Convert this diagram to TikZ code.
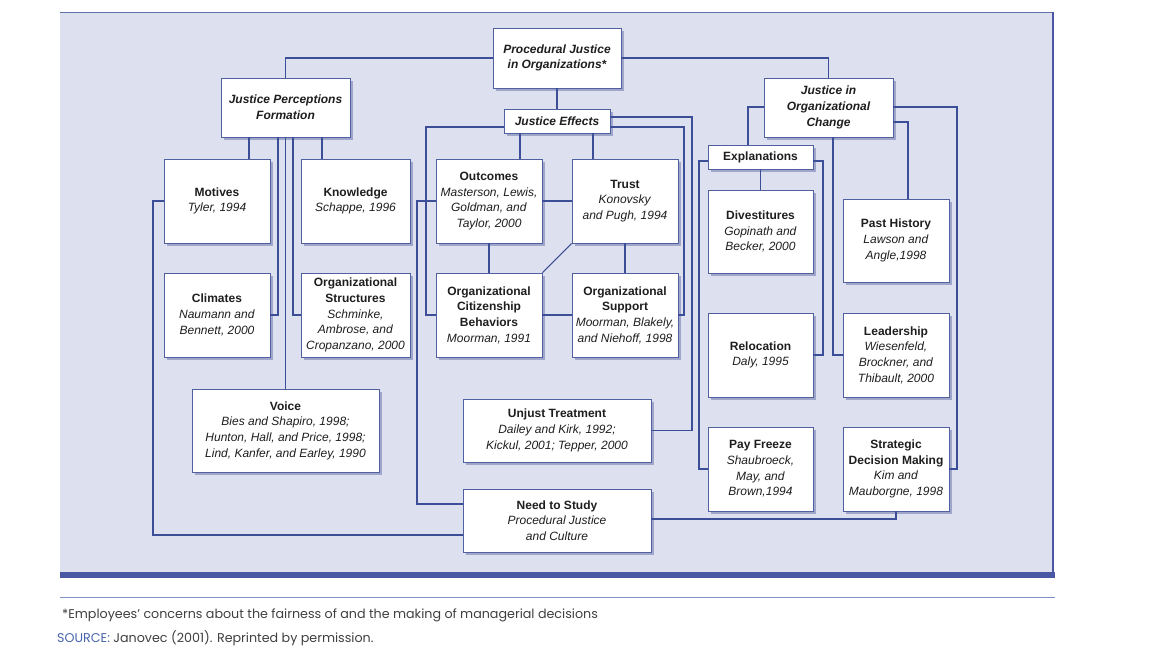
\documentclass[tikz,border=0pt]{standalone}
\usepackage{fontspec}
\setmainfont{Liberation Sans}
\newfontfamily\footfont{Poppins}
\usetikzlibrary{shadows}
\definecolor{panel}{RGB}{221,224,238}
\definecolor{lineblue}{RGB}{60,78,152}
\definecolor{boxblue}{RGB}{80,96,160}
\definecolor{shadowc}{RGB}{160,166,202}
\definecolor{barblue}{RGB}{74,88,164}
\definecolor{sourceblue}{RGB}{70,100,175}
\definecolor{txt}{RGB}{30,30,30}
\begin{document}
\begin{tikzpicture}[x=1pt,y=-1pt,
  box/.style={draw=boxblue, line width=0.9pt, fill=white, inner sep=0pt, align=center,
    font=\fontsize{12}{15.7}\selectfont, text=txt,
    general shadow={fill=shadowc, shadow xshift=2.5pt, shadow yshift=-2.5pt}},
  titlebox/.style={box, font=\fontsize{12}{15.7}\selectfont\bfseries\itshape},
  sz/.style 2 args={minimum width=#1pt, minimum height=#2pt},
  conn/.style={draw=lineblue, line width=1.05pt},
  foot/.style={anchor=base west, inner sep=0pt, font=\footfont\fontsize{12.7}{14}\selectfont, text=txt!85}]
\useasboundingbox (0,0) rectangle (1152,648);
\fill[white] (0,0) rectangle (1152,648);
% panel
\fill[panel] (60,12) rectangle (1053,572);
\draw[lineblue!80, line width=0.8pt] (60,12.5) -- (1053,12.5);
\draw[barblue, line width=2pt] (1053,12) -- (1053,573);
\fill[barblue] (60,572) rectangle (1055,578);
\draw[sourceblue!70, line width=0.8pt] (60,597) -- (1055,597);

% nodes
\node[titlebox, sz={128}{60}] (PJ) at (557,58) {Procedural Justice\\in Organizations*};
\node[titlebox, sz={129}{59}] (JPF) at (285.5,107.5) {Justice Perceptions\\Formation};
\node[titlebox, sz={106}{24}] (JE) at (557,121) {Justice Effects};
\node[titlebox, sz={129}{59}] (JOC) at (828.5,107.5) {Justice in\\Organizational\\Change};
\node[box, sz={105}{24}] (Expl) at (760.5,157) {\textbf{Explanations}};

\node[box, sz={106}{84}] (Motives) at (217,201) {\textbf{Motives}\\\textit{Tyler, 1994}};
\node[box, sz={109}{84}] (Knowledge) at (355.5,201) {\textbf{Knowledge}\\\textit{Schappe, 1996}};
\node[box, sz={106}{84}] (Outcomes) at (489,201) {\textbf{Outcomes}\\\textit{Masterson, Lewis,}\\\textit{Goldman, and}\\\textit{Taylor, 2000}};
\node[box, sz={106}{84}] (Trust) at (625,201) {\textbf{Trust}\\\textit{Konovsky}\\\textit{and Pugh, 1994}};
\node[box, sz={106}{84}] (Climates) at (217,315) {\textbf{Climates}\\\textit{Naumann and}\\\textit{Bennett, 2000}};
\node[box, sz={109}{84}] (OrgStruct) at (355.5,315) {\textbf{Organizational}\\\textbf{Structures}\\\textit{Schminke,}\\\textit{Ambrose, and}\\\textit{Cropanzano, 2000}};
\node[box, sz={106}{84}] (OCB) at (489,315) {\textbf{Organizational}\\\textbf{Citizenship}\\\textbf{Behaviors}\\\textit{Moorman, 1991}};
\node[box, sz={106}{84}] (OrgSupport) at (625,315) {\textbf{Organizational}\\\textbf{Support}\\\textit{Moorman, Blakely,}\\\textit{and Niehoff, 1998}};
\node[box, sz={187}{83}] (Voice) at (285.5,430.5) {\textbf{Voice}\\\textit{Bies and Shapiro, 1998;}\\\textit{Hunton, Hall, and Price, 1998;}\\\textit{Lind, Kanfer, and Earley, 1990}};
\node[box, sz={188}{63}] (Unjust) at (557,430.5) {\textbf{Unjust Treatment}\\\textit{Dailey and Kirk, 1992;}\\\textit{Kickul, 2001; Tepper, 2000}};
\node[box, sz={188}{63}] (Need) at (557,520.5) {\textbf{Need to Study}\\\textit{Procedural Justice}\\\textit{and Culture}};
\node[box, sz={105}{83}] (Divest) at (760.5,231.5) {\textbf{Divestitures}\\\textit{Gopinath and}\\\textit{Becker, 2000}};
\node[box, sz={106}{83}] (PastHist) at (896,240.5) {\textbf{Past History}\\\textit{Lawson and}\\\textit{Angle,1998}};
\node[box, sz={105}{84}] (Reloc) at (760.5,355) {\textbf{Relocation}\\\textit{Daly, 1995}};
\node[box, sz={106}{84}] (Leader) at (896,355) {\textbf{Leadership}\\\textit{Wiesenfeld,}\\\textit{Brockner, and}\\\textit{Thibault, 2000}};
\node[box, sz={105}{84}] (PayFreeze) at (760.5,469) {\textbf{Pay Freeze}\\\textit{Shaubroeck,}\\\textit{May, and}\\\textit{Brown,1994}};
\node[box, sz={106}{84}] (Strategic) at (896,469) {\textbf{Strategic}\\\textbf{Decision Making}\\\textit{Kim and}\\\textit{Mauborgne, 1998}};

% bus coordinates
\coordinate (xM) at (249,0);
\coordinate (xK) at (322,0);
\coordinate (xC) at (278,0);
\coordinate (xS) at (293,0);
\coordinate (xL) at (153,0);
\coordinate (yN2) at (0,535);
\coordinate (xO) at (417,0);
\coordinate (yN1) at (0,504);
\coordinate (xJ) at (426,0);
\coordinate (yJ1) at (0,117);
\coordinate (yJ2) at (0,127);
\coordinate (xE1) at (520,0);
\coordinate (xE2) at (593,0);
\coordinate (xR1) at (692,0);
\coordinate (xR2) at (684,0);
\coordinate (xX) at (748,0);
\coordinate (xZ1) at (957,0);
\coordinate (yZ1) at (0,107);
\coordinate (yZ2) at (0,122);
\coordinate (xZ2) at (908,0);
\coordinate (xZ3) at (833,0);
\coordinate (yX) at (0,161);
\coordinate (xP) at (699,0);
\coordinate (xQ) at (823,0);
\coordinate (yS) at (0,519);

% connectors
\draw[conn] (PJ.west) -| (JPF.north);
\draw[conn] (PJ.east) -| (JOC.north);
\draw[conn] (PJ.south) -- (JE.north);
\draw[conn] (JPF.south -| xM) -- (Motives.north -| xM);
\draw[conn] (JPF.south -| xK) -- (Knowledge.north -| xK);
\draw[conn] (JPF.south -| xC) |- (Climates.east);
\draw[conn] (JPF.south -| xS) |- (OrgStruct.west);
\draw[conn] (JPF.south) -- (Voice.north);
\draw[conn] (Motives.west) -| (xL |- yN2) -- (Need.west |- yN2);
\draw[conn] (Outcomes.west) -| (xO |- yN1) -- (Need.west |- yN1);
\draw[conn] (JE.west |- yJ2) -| (xJ |- OCB.west) -- (OCB.west);
\draw[conn] (JE.south -| xE1) -- (Outcomes.north -| xE1);
\draw[conn] (JE.south -| xE2) -- (Trust.north -| xE2);
\draw[conn] (JE.east |- yJ1) -| (xR1 |- Unjust.east) -- (Unjust.east);
\draw[conn] (JE.east |- yJ2) -| (xR2 |- OrgSupport.east) -- (OrgSupport.east);
\draw[conn] (Outcomes.east) -- (Trust.west);
\draw[conn] (Outcomes.south) -- (OCB.north);
\draw[conn] (Trust.south) -- (OrgSupport.north);
\draw[conn] (Trust.south west) -- (OCB.north east);
\draw[conn] (OCB.east) -- (OrgSupport.west);
\draw[conn] (JOC.west |- yZ1) -| (Expl.north -| xX);
\draw[conn] (JOC.east |- yZ1) -| (xZ1 |- Strategic.east) -- (Strategic.east);
\draw[conn] (JOC.east |- yZ2) -| (PastHist.north -| xZ2);
\draw[conn] (JOC.south -| xZ3) |- (Leader.west);
\draw[conn] (Expl.south) -- (Divest.north);
\draw[conn] (Expl.west |- yX) -| (xP |- PayFreeze.west) -- (PayFreeze.west);
\draw[conn] (Expl.east |- yX) -| (xQ |- Reloc.east) -- (Reloc.east);
\draw[conn] (Need.east |- yS) -| (Strategic.south);

% footnote
\node[foot] (fn) at (62,618) {*Employees’ concerns about the fairness of and the making of managerial decisions};
\node[foot] (src) at (57,642) {\textcolor{sourceblue}{SOURCE:} Janovec (2001). Reprinted by permission.};
\end{tikzpicture}
\end{document}
